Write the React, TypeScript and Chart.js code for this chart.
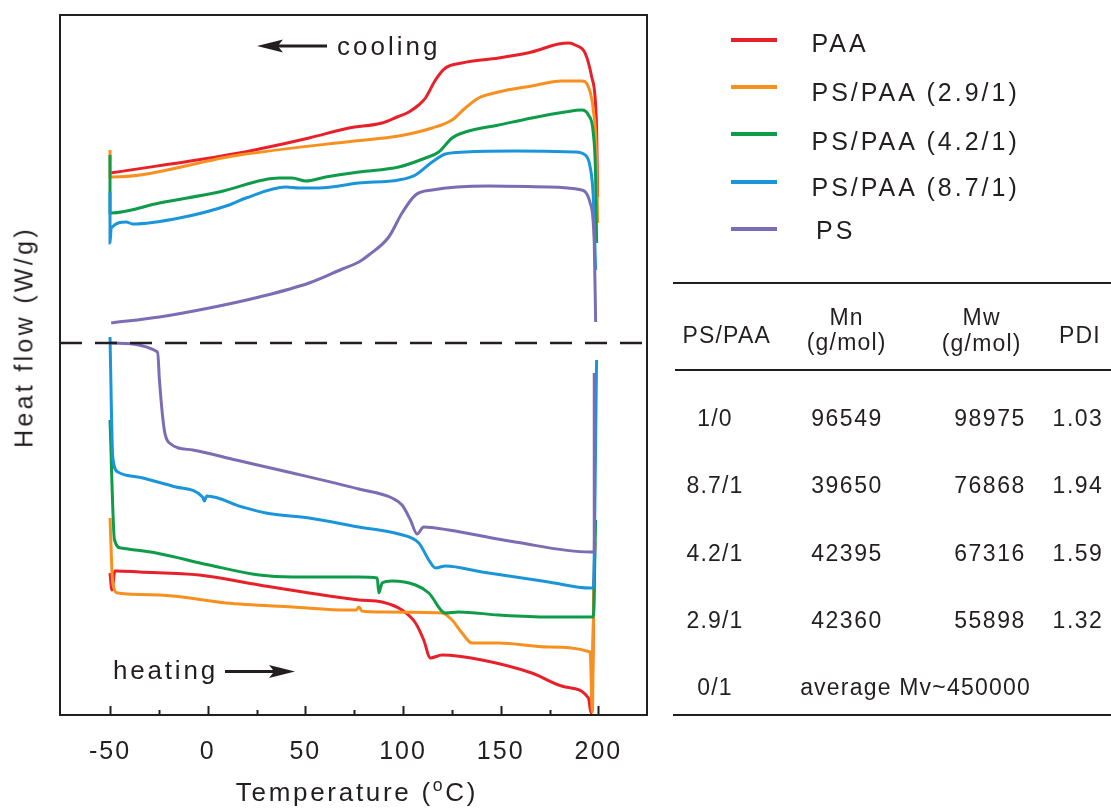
import React, { useEffect, useRef } from "react";
import { Chart, registerables } from "chart.js";

Chart.register(...registerables);

// ---------- data (temperature in °C, heat flow in arbitrary offset units) ----------
const xTicks = [-50, 0, 50, 100, 150, 200];
const xMinorTicks = [-25, 25, 75, 125, 175];

// cooling runs (upper half)
const paaCoolT = [-50, 16.1, 51.9, 72.3, 89.3, 97.0, 103.0, 108.0, 111.5, 116.6, 121.7, 130.2, 148.9, 165.9, 179.6, 185.0, 188.1, 193.2, 196.6, 199.1, 199.6];
const paaCoolHF = [54.2, 56.2, 57.7, 58.7, 59.2, 59.8, 60.3, 61.0, 61.7, 63.5, 64.7, 65.2, 65.7, 66.3, 67.1, 67.2, 67.0, 66.2, 63.8, 58.8, 51.8];

const r29CoolT = [-50, -50, -49.4, 16.1, 75.0, 97.8, 114.9, 125.1, 131.9, 138.7, 148.9, 165.9, 181.2, 191.5, 194.9, 197.4, 199.1, 199.6];
const r29CoolHF = [56.5, 53.8, 53.8, 56.0, 57.4, 57.9, 58.7, 59.5, 60.7, 61.7, 62.3, 62.9, 63.4, 63.4, 62.8, 60.5, 55.5, 49.2];

const r42CoolT = [-50, -50, -49.4, -24.7, 5.9, 36.6, 43.2, 50.2, 60.4, 77.4, 97.8, 111.5, 118.3, 125.1, 131.9, 148.9, 165.9, 183.0, 191.5, 194.9, 197.4, 198.6, 199.1];
const r42CoolHF = [56.0, 50.2, 50.2, 51.2, 52.3, 53.7, 53.7, 53.4, 53.8, 54.3, 54.8, 55.7, 56.3, 57.7, 58.3, 59.0, 59.7, 60.3, 60.5, 60.0, 58.2, 53.8, 47.2];

const r87CoolT = [-50, -50, -49.4, -41.7, -38.4, -14.5, 11.0, 19.6, 40.0, 46.8, 57.0, 77.4, 97.8, 106.4, 114.9, 121.7, 131.9, 157.4, 188.1, 193.2, 195.8, 197.4, 198.6];
const r87CoolHF = [52.3, 47.2, 48.7, 49.3, 49.1, 49.7, 51.0, 51.7, 52.8, 52.7, 52.7, 53.2, 53.5, 54.0, 55.3, 56.1, 56.3, 56.4, 56.3, 56.0, 54.8, 51.8, 44.5];

const psCoolT = [-49.4, -24.7, 0.8, 26.4, 51.9, 68.9, 77.4, 82.5, 92.7, 99.5, 106.4, 114.9, 143.8, 174.5, 191.5, 195.8, 197.9, 198.6];
const psCoolHF = [39.2, 39.8, 40.7, 41.8, 43.2, 44.6, 45.3, 46.0, 47.8, 50.2, 52.0, 52.5, 52.9, 52.8, 52.5, 51.2, 47.2, 39.3];

// heating runs (lower half)
const paaHeatT = [-50, -49.0, -47.5, -46.8, -34.9, -4.3, 26.4, 51.9, 77.4, 89.3, 99.5, 106.4, 110.6, 114.0, 120.0, 140.4, 165.9, 183.0, 194.9, 196.3, 198.2];
const paaHeatHF = [14.2, 12.5, 14.4, 14.4, 14.3, 14.0, 13.0, 12.2, 11.5, 11.3, 10.5, 9.2, 7.5, 5.7, 6.0, 5.5, 4.2, 2.8, 1.7, 0.2, 17.3];

const r29HeatT = [-50, -48.6, -46.0, -24.7, 9.3, 43.4, 72.3, 76.0, 77.4, 79.0, 89.3, 120.0, 125.1, 130.2, 135.3, 148.9, 174.5, 195.8, 196.9, 197.7];
const r29HeatHF = [19.7, 13.2, 12.2, 12.0, 11.2, 10.8, 10.5, 10.5, 10.8, 10.4, 10.3, 10.2, 9.5, 8.2, 7.2, 7.2, 6.8, 6.3, 0.3, 13.7];

const r42HeatT = [-50, -47.7, -44.3, -26.4, 0.8, 26.4, 43.4, 77.4, 86.8, 87.6, 89.3, 94.4, 106.4, 113.2, 121.7, 128.5, 148.9, 174.5, 195.8, 197.4, 198.6];
const r42HeatHF = [29.5, 17.5, 16.7, 16.2, 15.0, 14.0, 13.8, 13.8, 13.7, 12.2, 13.2, 13.4, 13.0, 12.2, 10.2, 10.3, 10.0, 9.8, 9.8, 9.8, 19.5];

const r87HeatT = [-50, -48.6, -46.0, -33.2, -16.2, -2.6, -1.7, -0.5, 17.8, 29.8, 51.9, 77.4, 97.8, 108.1, 113.2, 116.6, 121.7, 140.4, 174.5, 195.8, 197.4, 199.1];
const r87HeatHF = [37.8, 25.8, 24.3, 23.7, 22.8, 21.8, 21.4, 21.9, 20.8, 20.2, 19.7, 18.8, 18.1, 17.2, 15.5, 14.7, 14.9, 14.3, 13.3, 12.7, 12.7, 35.5];

const psHeatT = [-50, -25.6, -24.7, -22.2, -19.6, -7.7, 14.5, 43.4, 77.4, 94.4, 99.5, 103.8, 107.2, 110.6, 123.4, 157.4, 195.8, 197.9, 197.9];
const psHeatHF = [37.2, 36.3, 33.5, 28.5, 27.2, 26.5, 25.5, 24.2, 22.6, 21.7, 21.0, 19.5, 18.1, 18.8, 18.5, 17.3, 16.3, 16.3, 34.2];

const dividerT = [-75.6, 224.9];
const dividerHF = [37.2, 37.2];

const legendLabels = ["PAA", "PS/PAA (2.9/1)", "PS/PAA (4.2/1)", "PS/PAA (8.7/1)", "PS"];
const seriesColors = ["#E8202A", "#F7901E", "#0E9C4A", "#1B95DA", "#7B6CB4"];

const tableHeader = ["PS/PAA", "Mn", "(g/mol)", "Mw", "(g/mol)", "PDI"];
const tableRatio = ["1/0", "8.7/1", "4.2/1", "2.9/1", "0/1"];
const tableMn = ["96549", "39650", "42395", "42360"];
const tableMw = ["98975", "76868", "67316", "55898"];
const tablePDI = ["1.03", "1.94", "1.59", "1.32"];
const tableNote = "average Mv~450000";

// ---------- layout / style ----------
const FONT = '"Liberation Sans", Arial, Helvetica, sans-serif';
const INK = "#231F20";

const pts = (t: number[], h: number[]) => t.map((x, i) => ({ x, y: h[i] }));

const frameAndArrows = {
  id: "frameAndArrows",
  beforeDraw(chart: any) {
    chart.ctx.letterSpacing = "2px";
  },
  afterDraw(chart: any) {
    const { ctx, chartArea, scales } = chart;
    const { left, top, right, bottom } = chartArea;
    const x = scales.x;
    ctx.save();
    ctx.strokeStyle = INK;
    ctx.lineWidth = 2;
    ctx.strokeRect(left, top, right - left, bottom - top);
    ctx.beginPath();
    xTicks.forEach((v) => {
      const px = Math.round(x.getPixelForValue(v)) + 0.5;
      ctx.moveTo(px, bottom);
      ctx.lineTo(px, bottom - 9);
    });
    xMinorTicks.forEach((v) => {
      const px = Math.round(x.getPixelForValue(v)) + 0.5;
      ctx.moveTo(px, bottom);
      ctx.lineTo(px, bottom - 5);
    });
    ctx.stroke();

    const arrow = (x0: number, x1: number, y: number) => {
      const dir = Math.sign(x1 - x0);
      const head = 26;
      ctx.strokeStyle = INK;
      ctx.fillStyle = INK;
      ctx.lineWidth = 3;
      ctx.beginPath();
      ctx.moveTo(x0, y);
      ctx.lineTo(x1 - dir * head * 0.7, y);
      ctx.stroke();
      ctx.beginPath();
      ctx.moveTo(x1, y);
      ctx.lineTo(x1 - dir * head, y - 6.5);
      ctx.lineTo(x1 - dir * head * 0.8, y);
      ctx.lineTo(x1 - dir * head, y + 6.5);
      ctx.closePath();
      ctx.fill();
    };
    arrow(327, 257, 46);
    arrow(225, 295, 671.5);
    ctx.restore();
  },
};

function Txt({ x, y, size, ls, children, anchor = "center" }: any) {
  const tx = anchor === "center" ? "-50%" : "0";
  return (
    <div
      style={{
        position: "absolute",
        left: x,
        top: y,
        transform: `translate(${tx}, -50%)`,
        fontFamily: FONT,
        fontSize: size,
        letterSpacing: ls,
        color: INK,
        whiteSpace: "nowrap",
        lineHeight: "normal",
      }}
    >
      {children}
    </div>
  );
}

export default function App() {
  const ref = useRef<HTMLCanvasElement | null>(null);

  useEffect(() => {
    if (!ref.current) return;
    const mk = (label: string, t: number[], h: number[], color: string, order: number) => ({
      label,
      data: pts(t, h),
      borderColor: color,
      backgroundColor: color,
      borderWidth: 3,
      pointRadius: 0,
      cubicInterpolationMode: "monotone",
      fill: false,
      order,
    });
    const chart = new Chart(ref.current, {
      type: "line",
      data: {
        datasets: [
          mk("PAA cooling", paaCoolT, paaCoolHF, seriesColors[0], 6),
          mk("PAA heating", paaHeatT, paaHeatHF, seriesColors[0], 6),
          mk("PS/PAA (2.9/1) cooling", r29CoolT, r29CoolHF, seriesColors[1], 5),
          mk("PS/PAA (2.9/1) heating", r29HeatT, r29HeatHF, seriesColors[1], 5),
          mk("PS/PAA (4.2/1) cooling", r42CoolT, r42CoolHF, seriesColors[2], 4),
          mk("PS/PAA (4.2/1) heating", r42HeatT, r42HeatHF, seriesColors[2], 4),
          mk("PS/PAA (8.7/1) cooling", r87CoolT, r87CoolHF, seriesColors[3], 3),
          mk("PS/PAA (8.7/1) heating", r87HeatT, r87HeatHF, seriesColors[3], 3),
          mk("PS cooling", psCoolT, psCoolHF, seriesColors[4], 2),
          mk("PS heating", psHeatT, psHeatHF, seriesColors[4], 2),
          {
            label: "divider",
            data: pts(dividerT, dividerHF),
            borderColor: INK,
            borderWidth: 2.5,
            borderDash: [22, 13],
            pointRadius: 0,
            fill: false,
            order: 1,
          },
        ],
      },
      options: {
        animation: false,
        responsive: false,
        maintainAspectRatio: false,
        layout: { padding: { left: 0, top: 15, right: 464, bottom: 0 } },
        plugins: { legend: { display: false }, tooltip: { enabled: false } },
        scales: {
          x: {
            type: "linear",
            min: -75.6,
            max: 224.9,
            grid: { display: false, drawTicks: false },
            border: { display: false },
            ticks: {
              font: { family: FONT, size: 25 },
              color: INK,
              padding: 22,
              maxRotation: 0,
              autoSkip: false,
            },
            afterBuildTicks: (s: any) => {
              s.ticks = xTicks.map((v) => ({ value: v }));
            },
            afterFit: (s: any) => {
              s.height = 93;
            },
          },
          y: {
            type: "linear",
            min: 0,
            max: 70,
            grid: { display: false, drawTicks: false },
            border: { display: false },
            ticks: { display: false },
            afterFit: (s: any) => {
              s.width = 60;
            },
          },
        },
      },
      plugins: [frameAndArrows],
    } as any);
    return () => chart.destroy();
  }, []);

  const legendLineY = [40, 87.3, 134.3, 182.3, 229.3];
  const legendTextY = [43.3, 92.3, 141.3, 186.7, 230];
  const rowY = [418.3, 485, 553.3, 620, 687];
  const colX = [715, 847, 990, 1078];

  return (
    <div style={{ position: "absolute", left: 0, top: 0, width: 1111, height: 808, background: "#fff", overflow: "hidden" }}>
      <canvas ref={ref} width={1111} height={808} style={{ display: "block", width: 1111, height: 808 }} />

      {/* axis titles */}
      <div
        style={{
          position: "absolute",
          left: 24,
          top: 337,
          transform: "translate(-50%, -50%) rotate(-90deg)",
          fontFamily: FONT,
          fontSize: 25,
          letterSpacing: "3.3px",
          color: INK,
          whiteSpace: "nowrap",
        }}
      >
        Heat flow (W/g)
      </div>
      <div
        style={{
          position: "absolute",
          left: 357,
          top: 792,
          transform: "translate(-50%, -50%)",
          fontFamily: FONT,
          fontSize: 26,
          letterSpacing: "2.7px",
          color: INK,
          whiteSpace: "nowrap",
          lineHeight: 1,
        }}
      >
        Temperature (<span style={{ fontSize: "0.68em", position: "relative", top: "-0.55em" }}>o</span>C)
      </div>

      {/* annotations */}
      <Txt x={337} y={46} size={26} ls="3px" anchor="left">cooling</Txt>
      <Txt x={113} y={669.5} size={26} ls="2.8px" anchor="left">heating</Txt>

      {/* legend */}
      {legendLabels.map((lab, i) => (
        <React.Fragment key={lab}>
          <div
            style={{
              position: "absolute",
              left: 731,
              top: legendLineY[i] - 2,
              width: 46,
              height: 4,
              background: seriesColors[i],
            }}
          />
          <Txt x={i === 4 ? 816 : 811.5} y={legendTextY[i]} size={25} ls="3px" anchor="left">
            {lab}
          </Txt>
        </React.Fragment>
      ))}

      {/* table */}
      <div style={{ position: "absolute", left: 673, top: 281.5, width: 438, height: 2, background: INK }} />
      <div style={{ position: "absolute", left: 675, top: 368.5, width: 436, height: 2, background: INK }} />
      <div style={{ position: "absolute", left: 673, top: 714, width: 438, height: 2, background: INK }} />

      <Txt x={726.7} y={335} size={23} ls="1.2px">{tableHeader[0]}</Txt>
      <Txt x={846.7} y={316.7} size={23} ls="1.2px">{tableHeader[1]}</Txt>
      <Txt x={846.7} y={342} size={23} ls="1.2px">{tableHeader[2]}</Txt>
      <Txt x={981.7} y={316.7} size={23} ls="1.2px">{tableHeader[3]}</Txt>
      <Txt x={981.7} y={343} size={23} ls="1.2px">{tableHeader[4]}</Txt>
      <Txt x={1080} y={335} size={23} ls="1.2px">{tableHeader[5]}</Txt>

      {tableRatio.map((r, i) => (
        <Txt key={"r" + i} x={colX[0]} y={rowY[i]} size={23} ls="1.2px">{r}</Txt>
      ))}
      {tableMn.map((v, i) => (
        <Txt key={"mn" + i} x={colX[1]} y={rowY[i]} size={23} ls="1.5px">{v}</Txt>
      ))}
      {tableMw.map((v, i) => (
        <Txt key={"mw" + i} x={colX[2]} y={rowY[i]} size={23} ls="1.5px">{v}</Txt>
      ))}
      {tablePDI.map((v, i) => (
        <Txt key={"pdi" + i} x={colX[3]} y={rowY[i]} size={23} ls="1.5px">{v}</Txt>
      ))}
      <Txt x={915.5} y={rowY[4]} size={23} ls="1.2px">{tableNote}</Txt>
    </div>
  );
}
